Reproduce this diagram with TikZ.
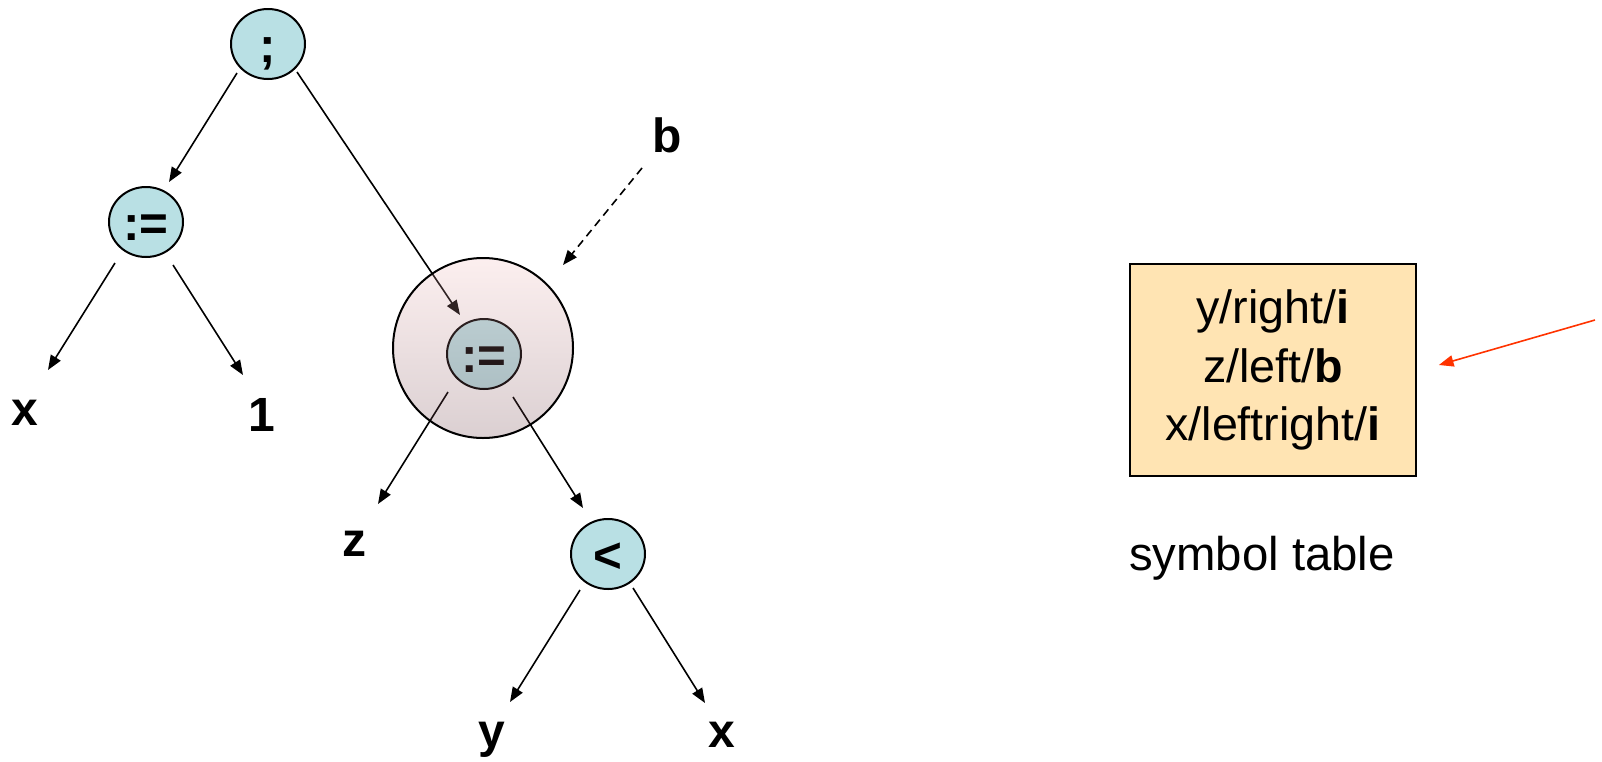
\documentclass[tikz,border=0pt]{standalone}
\usepackage{fontspec}
\setmainfont{Liberation Sans}
\usetikzlibrary{arrows.meta,shapes.geometric,calc}
\definecolor{nodecyan}{RGB}{185,224,228}
\definecolor{boxfill}{RGB}{255,228,179}
\definecolor{redarrow}{RGB}{255,51,0}
\definecolor{ovtop}{RGB}{242,185,185}
\definecolor{ovbot}{RGB}{98,50,59}
\tikzset{
  opnode/.style={ellipse, draw=black, line width=1.5pt, fill=nodecyan,
    minimum width=55.5pt, minimum height=52.5pt, inner xsep=0pt, inner ysep=-5pt,
    font=\fontsize{37}{44}\selectfont\bfseries, text height=36pt, text depth=7.8pt},
  leaf/.style={anchor=base, inner sep=0pt, font=\fontsize{36}{43}\selectfont\bfseries},
  conn/.style={line width=1.2pt, -{Triangle[length=11pt,width=8.5pt]}},
  dashconn/.style={conn, dash pattern=on 6pt off 4pt},
  redconn/.style={line width=1.2pt, draw=redarrow, -{Triangle[length=11pt,width=8.5pt]}},
  scopering/.style={circle, minimum size=135pt, inner sep=0pt, draw=black, line width=1.5pt,
    top color=ovtop, bottom color=ovbot, fill opacity=0.23, draw opacity=1},
  tablebox/.style={draw=black, line width=1.3pt, fill=boxfill, minimum width=214.5pt,
    minimum height=159pt, align=center, inner sep=0pt, font=\fontsize{35}{44}\selectfont},
  plain/.style={anchor=base, inner sep=0pt, font=\fontsize{35.5}{42}\selectfont}
}
\begin{document}
\begin{tikzpicture}[x=0.75pt, y=-0.75pt]
\useasboundingbox (0,0) rectangle (1602,761);
% operator nodes
\node[opnode] (semi) at (268,44) {;};
\node[opnode] (asg1) at (146,222) {:=};
\node[opnode] (asg2) at (484,354) {:=};
\node[opnode] (lt) at (608,554) {<};
% leaves
\node[leaf] (x1) at (25,425) {x};
\node[leaf] (one) at (262,431) {1};
\node[leaf] (z) at (354,556) {z};
\node[leaf] (y) at (492,747) {y};
\node[leaf] (x2) at (722,747) {x};
\node[leaf] (b) at (667,152) {b};
% edges
\draw[conn] ($(semi)+(-31,29)$) -- ($(asg1)+(23,-40)$);
\draw[conn] ($(semi)+(29,28)$) -- ($(asg2)+(-24,-39)$);
\draw[conn] ($(asg1)+(-31,41)$) -- ($(x1.base)+(23,-55)$);
\draw[conn] ($(asg1)+(27,43)$) -- ($(one.base)+(-19,-56)$);
\draw[conn] ($(asg2)+(-36,38)$) -- ($(z.base)+(24,-52)$);
\draw[conn] ($(asg2)+(29,43)$) -- ($(lt)+(-25,-46)$);
\draw[conn] ($(lt)+(-28,36)$) -- ($(y.base)+(18,-45)$);
\draw[conn] ($(lt)+(25,34)$) -- ($(x2.base)+(-17,-44)$);
% scope overlay
\node[scopering] (big) at (483,348) {};
\draw[dashconn] ($(b.base)+(-25,16)$) -- ($(big)+(80,-83)$);
% symbol table
\node[tablebox] (symtab) at (1273,370) {y/right/\textbf{i}\\ z/left/\textbf{b}\\ x/leftright/\textbf{i}};
\node[plain] (caption) at (1262,570) {symbol table};
\coordinate (redstart) at (1595,320);
\draw[redconn] (redstart) -- ($(symtab.east)+(22,-5)$);
\end{tikzpicture}
\end{document}
